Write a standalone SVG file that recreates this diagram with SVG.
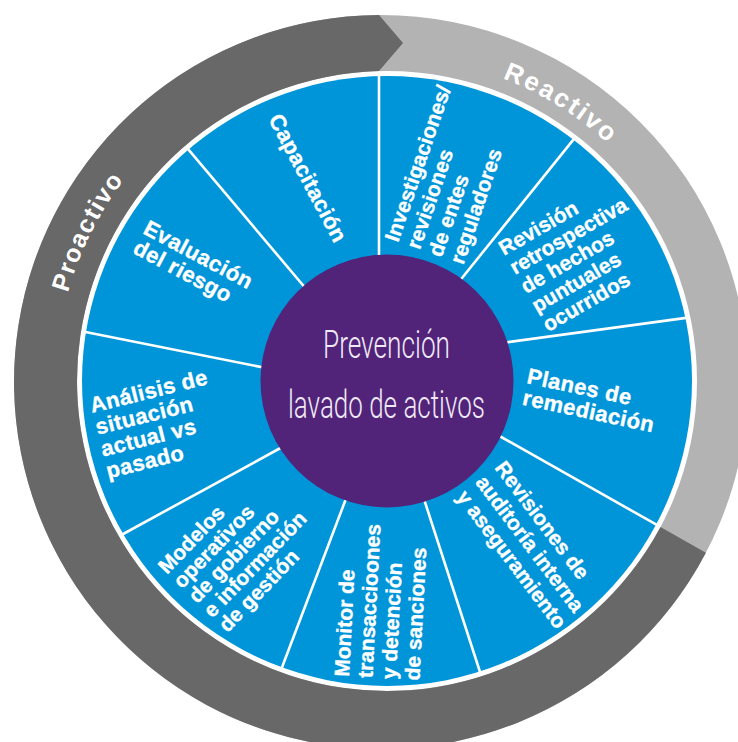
<svg xmlns="http://www.w3.org/2000/svg" width="738" height="742" viewBox="0 0 738 742">
  <defs>
    <style>
      .lbl { font-family: "Liberation Sans", Arial, sans-serif; font-weight: bold; font-size: 21px; fill: #ffffff; stroke: #ffffff; stroke-width: 0.35px; }
      .big { font-size: 22px; letter-spacing: 0.4px; }
      .ring { font-family: "Liberation Sans", Arial, sans-serif; font-weight: bold; font-size: 25px; letter-spacing: 1.5px; fill: #ffffff; }
      .rea { font-size: 26px; letter-spacing: 2.2px; }
      .ctr { font-family: Roboto, "Liberation Sans", sans-serif; font-weight: 300; font-size: 39px; fill: #efe9f5; }
      .div { stroke: #ffffff; stroke-width: 2.6; fill: none; }
    </style>
    <path id="arcPro" d="M111.0,563.7 A331,331 0 0 1 366.8,50.6"/>
    <path id="arcRea" d="M234.9,94.9 A325,325 0 0 1 711.8,392.3"/>
  </defs>
  <rect x="0" y="0" width="738" height="742" fill="#ffffff"/>

  <g id="outer-ring">
    <path fill="#b3b3b3" fill-rule="evenodd" d="M14,382 A367,367 0 1 0 748,382 A367,367 0 1 0 14,382 Z M77,381 A310,310 0 1 0 697,381 A310,310 0 1 0 77,381 Z"/>
    <path fill="#686868" d="M660.5,527 L705.9,552.7 A367,367 0 1 1 379,15 L403,43 L379,71.1 A310,310 0 1 0 660.5,527 Z"/>
    <text class="ring"><textPath href="#arcPro" startOffset="50%" text-anchor="middle">Proactivo</textPath></text>
    <text class="ring rea"><textPath href="#arcRea" startOffset="50%" text-anchor="middle">Reactivo</textPath></text>
  </g>

  <g id="wheel">
    <circle cx="387" cy="381" r="305" fill="#0095d9"/>
  </g>

  <g id="dividers">
    <line class="div" x1="379" y1="72" x2="379" y2="260"/>
    <line class="div" x1="575" y1="137.6" x2="458" y2="283"/>
    <line class="div" x1="688" y1="317.6" x2="502" y2="343"/>
    <line class="div" x1="660" y1="526.7" x2="496" y2="434"/>
    <line class="div" x1="481" y1="675" x2="423" y2="496"/>
    <line class="div" x1="281" y1="670" x2="347" y2="496"/>
    <line class="div" x1="120.4" y1="535.5" x2="286" y2="445"/>
    <line class="div" x1="83" y1="331.4" x2="266" y2="368"/>
    <line class="div" x1="186" y1="146.7" x2="307" y2="290"/>
  </g>

  <g id="center">
    <circle cx="387" cy="381" r="126.5" fill="#51247a"/>
    <text class="ctr" x="386.5" y="358" text-anchor="middle" textLength="127" lengthAdjust="spacingAndGlyphs">Prevención</text>
    <text class="ctr" x="386.5" y="418" text-anchor="middle" textLength="197" lengthAdjust="spacingAndGlyphs">lavado de activos</text>
  </g>

  <g id="seg-capacitacion" transform="translate(268,119) rotate(62)">
    <text class="lbl big"><tspan x="0" y="0">Capacitación</tspan></text>
  </g>
  <g id="seg-investigaciones" transform="translate(398,243) rotate(-71)">
    <text class="lbl"><tspan x="0" y="0">Investigaciones/</tspan><tspan x="0" y="23">revisiones</tspan><tspan x="0" y="46">de entes</tspan><tspan x="0" y="69">reguladores</tspan></text>
  </g>
  <g id="seg-revision" transform="translate(504,256) rotate(-30)">
    <text class="lbl"><tspan x="0" y="0">Revisión</tspan><tspan x="0" y="22">retrospectiva</tspan><tspan x="0" y="44">de hechos</tspan><tspan x="0" y="66">puntuales</tspan><tspan x="0" y="88">ocurridos</tspan></text>
  </g>
  <g id="seg-planes" transform="translate(526,383) rotate(12)">
    <text class="lbl big"><tspan x="0" y="0">Planes de</tspan><tspan x="0" y="22">remediación</tspan></text>
  </g>
  <g id="seg-auditoria" transform="translate(494,468) rotate(53)">
    <text class="lbl"><tspan x="0" y="0">Revisiones de</tspan><tspan x="0" y="24">auditoría interna</tspan><tspan x="0" y="48">y aseguramiento</tspan></text>
  </g>
  <g id="seg-monitor" transform="translate(349,677) rotate(-87)">
    <text class="lbl"><tspan x="0" y="0">Monitor de</tspan><tspan x="0" y="23.5">transaccioones</tspan><tspan x="0" y="47">y detención</tspan><tspan x="0" y="70.5">de sanciones</tspan></text>
  </g>
  <g id="seg-modelos" transform="translate(167,575) rotate(-46)">
    <text class="lbl"><tspan x="0" y="0">Modelos</tspan><tspan x="0" y="21">operativos</tspan><tspan x="0" y="42">de gobierno</tspan><tspan x="0" y="63">e información</tspan><tspan x="0" y="84">de gestión</tspan></text>
  </g>
  <g id="seg-analisis" transform="translate(92,413) rotate(-14)">
    <text class="lbl big"><tspan x="0" y="0">Análisis de</tspan><tspan x="0" y="22.5">situación</tspan><tspan x="0" y="45">actual vs</tspan><tspan x="0" y="67.5">pasado</tspan></text>
  </g>
  <g id="seg-evaluacion" transform="translate(142,233) rotate(28)">
    <text class="lbl big"><tspan x="0" y="0">Evaluación</tspan><tspan x="0" y="22">del riesgo</tspan></text>
  </g>
</svg>
